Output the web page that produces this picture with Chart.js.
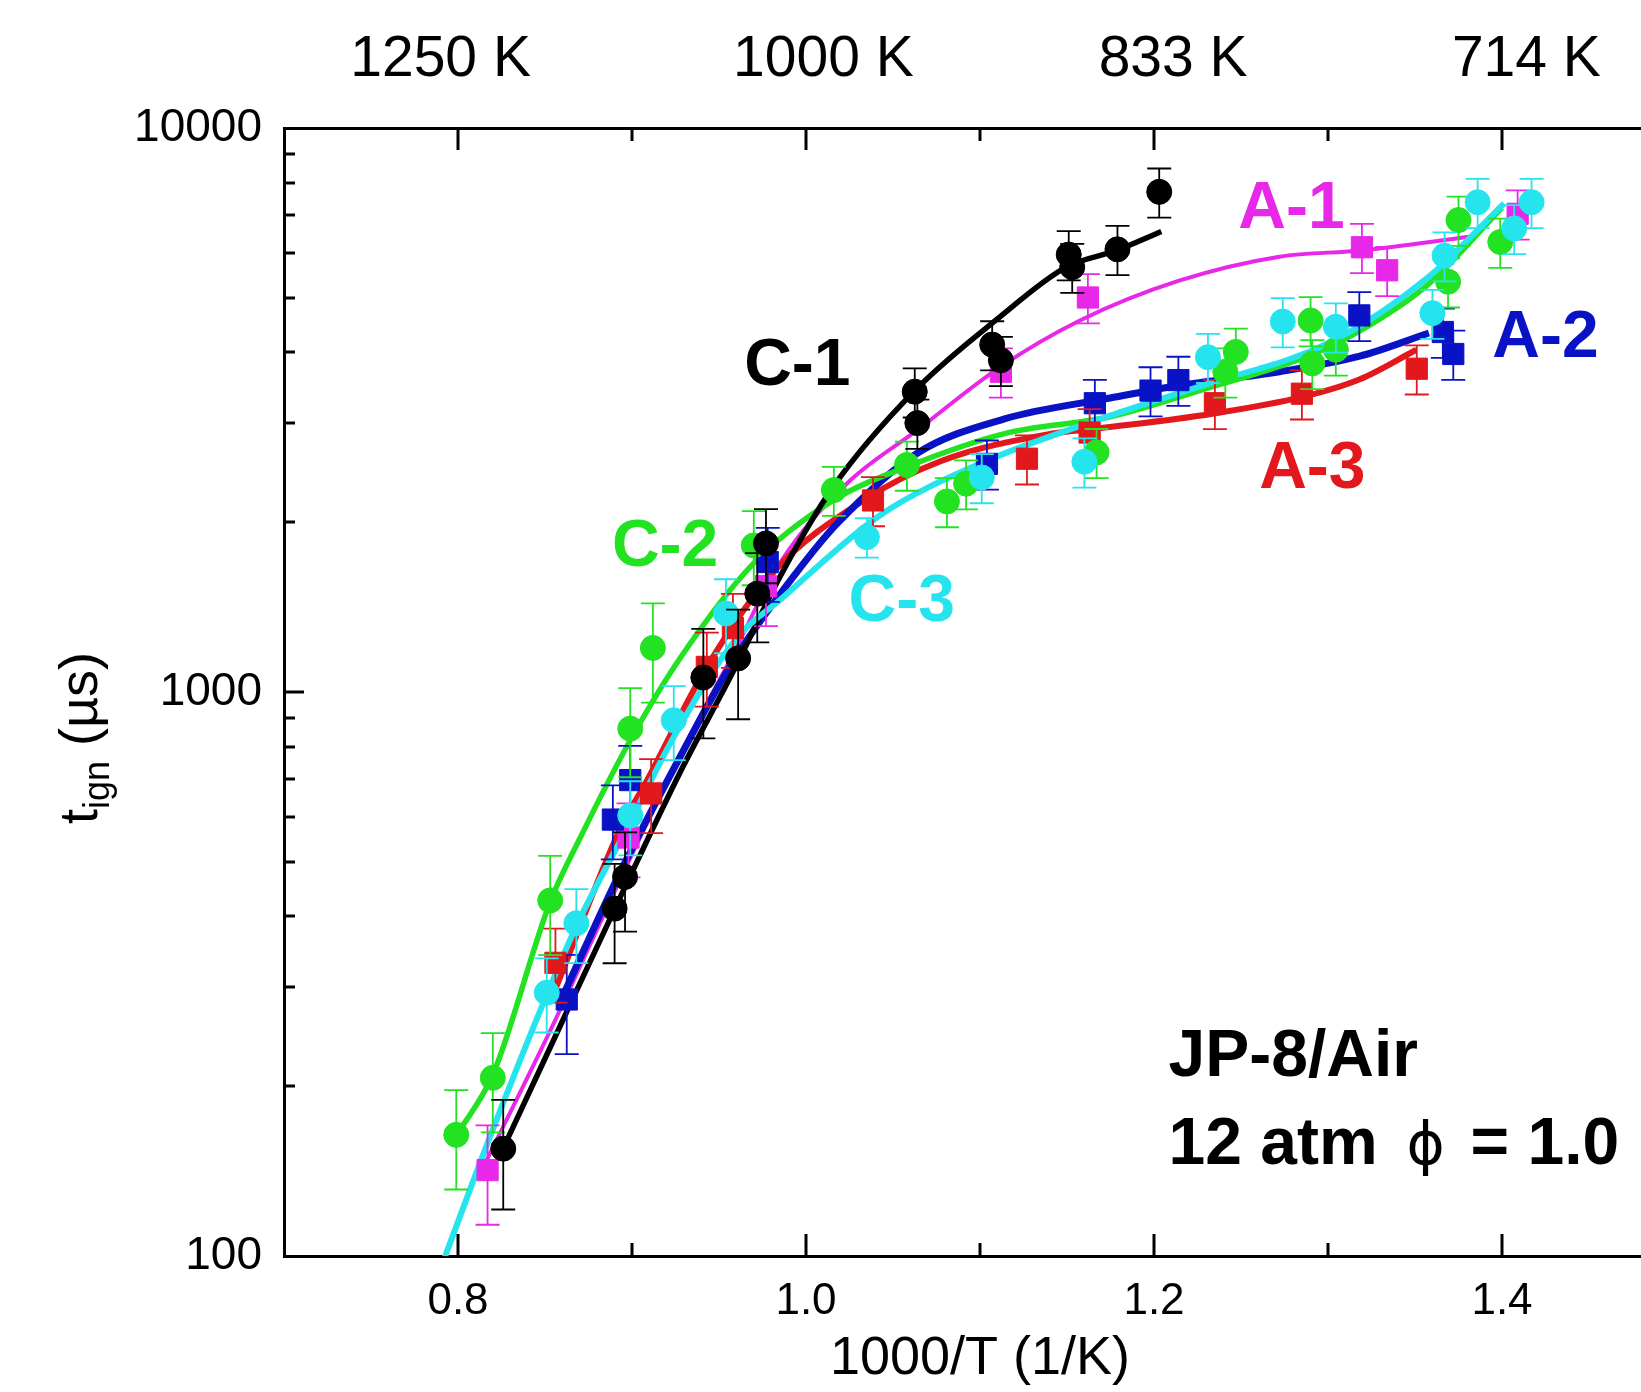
<!DOCTYPE html>
<html>
<head>
<meta charset="utf-8">
<title>JP-8/Air ignition delay, 12 atm</title>
<script src="https://cdn.jsdelivr.net/npm/chart.js@4.4.1/dist/chart.umd.min.js"></script>
<style>
  html, body { margin: 0; padding: 0; background: #fff; overflow: hidden; }
  #wrap { width: 1641px; height: 1392px; overflow: hidden; }
  canvas { display: block; }
</style>
</head>
<body>
<div id="wrap"><canvas id="tign" width="1720" height="1392"></canvas></div>
<script>
// measured points: [1000/T (1/K), t_ign (us), relative error]
const c1Pts = [[0.826, 155, 0.22], [0.890, 413, 0.2], [0.896, 470, 0.2], [0.941, 1061, 0.22], [0.961, 1147, 0.22],
  [0.972, 1494, 0.18], [0.977, 1834, 0.15], [1.0625, 3408, 0.1], [1.064, 2998, 0.1], [1.107, 4130, 0.1],
  [1.112, 3874, 0.1], [1.151, 5965, 0.1], [1.153, 5666, 0.1], [1.179, 6094, 0.1], [1.203, 7706, 0.1]];
const c2Pts = [[0.799, 164, 0.2], [0.820, 207, 0.2], [0.853, 427, 0.2], [0.899, 861, 0.18], [0.912, 1197, 0.2],
  [0.970, 1819, 0.15], [1.016, 2280, 0.1], [1.058, 2527, 0.1], [1.081, 2177, 0.1], [1.092, 2341, 0.1],
  [1.167, 2660, 0.1], [1.241, 3697, 0.1], [1.247, 4009, 0.1], [1.290, 4557, 0.1], [1.291, 3825, 0.1],
  [1.3045, 4044, 0.1], [1.369, 5339, 0.1], [1.375, 6867, 0.1], [1.399, 6278, 0.1]];
const c3Pts = [[0.851, 293, 0.15], [0.868, 389, 0.15], [0.899, 604, 0.15], [0.924, 891, 0.15], [0.954, 1378, 0.15],
  [1.035, 1882, 0.08], [1.101, 2401, 0.1], [1.160, 2560, 0.1], [1.231, 3923, 0.1], [1.274, 4538, 0.1],
  [1.3045, 4442, 0.1], [1.360, 4696, 0.1], [1.367, 5939, 0.1], [1.386, 7385, 0.1], [1.407, 6637, 0.1],
  [1.417, 7385, 0.1]];
const a1Pts = [[0.817, 142, 0.2], [0.898, 552, 0.15], [0.977, 1540, 0.15], [1.112, 3697, 0.1], [1.162, 5006, 0.1],
  [1.3195, 6146, 0.1], [1.334, 5594, 0.1], [1.409, 7045, 0.1]];
const a2Pts = [[0.8625, 285, 0.2], [0.889, 594, 0.15], [0.899, 698, 0.15], [0.978, 1700, 0.15], [1.104, 2538, 0.1],
  [1.166, 3251, 0.1], [1.198, 3423, 0.1], [1.214, 3573, 0.1], [1.318, 4653, 0.1], [1.366, 4348, 0.1],
  [1.372, 3975, 0.1]];
const a3Pts = [[0.856, 331, 0.15], [0.911, 661, 0.15], [0.943, 1108, 0.15], [0.958, 1298, 0.15], [1.0385, 2186, 0.1],
  [1.127, 2592, 0.1], [1.163, 2884, 0.1], [1.235, 3251, 0.1], [1.285, 3380, 0.1], [1.351, 3743, 0.1]];

// fitted curves: [1000/T, t_ign]
const c1Fit = [[0.8246, 152], [0.8559, 245], [0.8919, 424], [0.9279, 723], [0.958, 1085], [0.985, 1600],
  [1.0156, 2310], [1.0625, 3422], [1.1111, 4615], [1.1495, 5666], [1.1784, 6066], [1.2042, 6552]];
const c2Fit = [[0.7988, 163], [0.8204, 211], [0.8529, 424], [0.8703, 552], [0.8991, 822], [0.9279, 1151],
  [0.97, 1692], [1.0156, 2186], [1.0577, 2506], [1.1141, 2872], [1.1748, 3076], [1.2282, 3438],
  [1.2883, 3940], [1.3183, 4367], [1.358, 5293], [1.400, 7228]];
const c3Fit = [[0.7916, 98], [0.8198, 167], [0.8511, 291], [0.8679, 384], [0.8991, 589], [0.9237, 829],
  [0.9604, 1249], [0.985, 1456], [1.0426, 2058], [1.0997, 2538], [1.1748, 3090], [1.2282, 3496],
  [1.3009, 4166], [1.358, 5452], [1.4012, 7353]];
const a1Fit = [[0.8156, 146], [0.8559, 262], [0.8919, 456], [0.9279, 777], [0.958, 1166], [0.985, 1692],
  [1.0234, 2340], [1.0637, 2909], [1.1111, 3760], [1.1574, 4557], [1.2144, 5361], [1.2721, 5914],
  [1.3195, 6066], [1.3814, 6412]];
const a2Fit = [[0.8607, 291], [0.8919, 470], [0.9279, 770], [0.958, 1132], [0.994, 1620], [1.018, 1990],
  [1.0637, 2648], [1.1141, 3050], [1.1748, 3321], [1.2144, 3496], [1.2721, 3697], [1.3183, 3940], [1.358, 4330]];
const a3Fit = [[0.8559, 297], [0.8931, 571], [0.9087, 698], [0.943, 1108], [0.982, 1641], [1.033, 2186],
  [1.0781, 2570], [1.1381, 2860], [1.1688, 2935], [1.2336, 3115], [1.2853, 3336], [1.3183, 3586], [1.3508, 4044]];

const xTickValues = [0.8, 1.0, 1.2, 1.4];
const xTickLabels = ['0.8', '1.0', '1.2', '1.4'];
// temperature labels sit a little off their 1000/T marks in the original
const topLabelPos = [0.790, 1.010, 1.211, 1.414];
const topTickLabels = ['1250 K', '1000 K', '833 K', '714 K'];
const yTickValues = [100, 1000, 10000];
const yTickLabels = ['100', '1000', '10000'];

const FONT = '"Liberation Sans", Arial, Helvetica, sans-serif';
const BLACK = '#000000', GREEN = '#22e222', CYAN = '#26e4ee', MAGENTA = '#e828e8', BLUE = '#0a12c6', RED = '#e2181c';

// labels placed in data coordinates
const seriesTags = [
  { text: 'C-1', color: BLACK, x: 0.995, y: 3855 },
  { text: 'A-1', color: MAGENTA, x: 1.279, y: 7320 },
  { text: 'A-2', color: BLUE, x: 1.425, y: 4330 },
  { text: 'A-3', color: RED, x: 1.291, y: 2538 },
  { text: 'C-2', color: GREEN, x: 0.919, y: 1842 },
  { text: 'C-3', color: CYAN, x: 1.055, y: 1475 }
];
const note = { x: 1.2084, y1: 208.5, y2: 145.6 };

const toXY = arr => arr.map(p => ({ x: p[0], y: p[1] }));

function fitSet(pts, color, width, order) {
  return {
    data: toXY(pts), showLine: true, borderColor: color, borderWidth: width,
    pointRadius: 0, cubicInterpolationMode: 'monotone', order: order, clip: 0
  };
}

function markSet(pts, color, style, radius, order) {
  return {
    data: toXY(pts), errs: pts.map(p => p[2]), errColor: color, showLine: false,
    pointStyle: style, pointRadius: radius, pointBackgroundColor: color,
    pointBorderColor: color, pointBorderWidth: 1, order: order
  };
}

// error bars drawn right before each marker set
const errorBars = {
  id: 'errorBars',
  beforeDatasetDraw(chart, args) {
    const ds = chart.data.datasets[args.index];
    if (!ds.errs) return;
    const { ctx, scales: { x, y } } = chart;
    ctx.save();
    ctx.strokeStyle = ds.errColor;
    ctx.lineWidth = 1.8;
    ctx.beginPath();
    ds.data.forEach((p, i) => {
      const e = ds.errs[i];
      const px = x.getPixelForValue(p.x);
      const hi = y.getPixelForValue(p.y * (1 + e));
      const lo = y.getPixelForValue(p.y * (1 - e));
      ctx.moveTo(px, hi); ctx.lineTo(px, lo);
      ctx.moveTo(px - 12, hi); ctx.lineTo(px + 12, hi);
      ctx.moveTo(px - 12, lo); ctx.lineTo(px + 12, lo);
    });
    ctx.stroke();
    ctx.restore();
  }
};

// inward ticks, axis titles, annotations
const decor = {
  id: 'decor',
  afterDraw(chart) {
    const { ctx, chartArea: a, scales } = chart;
    ctx.save();
    ctx.strokeStyle = '#000';
    ctx.lineWidth = 3;
    ctx.beginPath();
    for (let k = 8; k <= 14; k++) {
      const px = Math.round(scales.x.getPixelForValue(k / 10));
      const len = k % 2 === 0 ? 22 : 13;
      ctx.moveTo(px, a.bottom); ctx.lineTo(px, a.bottom - len);
      ctx.moveTo(px, a.top); ctx.lineTo(px, a.top + len);
    }
    for (const dec of [100, 1000]) {
      for (let m = 1; m <= 9; m++) {
        const v = dec * m;
        if (v === 100) continue;
        const py = Math.round(scales.y.getPixelForValue(v));
        const len = m === 1 ? 20 : 11;
        ctx.moveTo(a.left, py); ctx.lineTo(a.left + len, py);
      }
    }
    ctx.stroke();

    // series tags
    ctx.textAlign = 'center';
    ctx.textBaseline = 'alphabetic';
    ctx.font = 'bold 66px ' + FONT;
    seriesTags.forEach(t => {
      ctx.fillStyle = t.color;
      ctx.fillText(t.text, scales.x.getPixelForValue(t.x), scales.y.getPixelForValue(t.y) + 24);
    });

    // condition note
    ctx.fillStyle = '#000';
    ctx.textAlign = 'left';
    const nx = scales.x.getPixelForValue(note.x);
    const ny1 = scales.y.getPixelForValue(note.y1);
    const ny2 = scales.y.getPixelForValue(note.y2);
    ctx.fillText('JP-8/Air', nx, ny1);
    ctx.fillText('12 atm', nx, ny2);
    ctx.fillText('= 1.0', nx + 302, ny2);
    ctx.font = '58px "DejaVu Sans", sans-serif';
    ctx.textAlign = 'center';
    ctx.fillText('\u03d5', nx + 257, ny2);

    // x title
    ctx.font = '54px ' + FONT;
    ctx.fillText('1000/T (1/K)', (a.left + a.right) / 2, 1374);

    // y title with subscript
    ctx.translate(97, 738);
    ctx.rotate(-Math.PI / 2);
    ctx.textAlign = 'left';
    const big = '54px ' + FONT, small = '36px ' + FONT;
    ctx.font = big;
    const wT = ctx.measureText('t').width;
    const wRest = ctx.measureText(' (\u00b5s)').width;
    ctx.font = small;
    const wSub = ctx.measureText('ign').width;
    let cx = -(wT + wSub + wRest) / 2;
    ctx.font = big; ctx.fillText('t', cx, 0); cx += wT;
    ctx.font = small; ctx.fillText('ign', cx, 12); cx += wSub;
    ctx.font = big; ctx.fillText(' (\u00b5s)', cx, 0);
    ctx.restore();
  }
};

new Chart(document.getElementById('tign'), {
  type: 'scatter',
  data: {
    datasets: [
      fitSet(a1Fit, MAGENTA, 4, 30),
      fitSet(a3Fit, RED, 6, 29),
      fitSet(a2Fit, BLUE, 7, 28),
      fitSet(c2Fit, GREEN, 5.5, 27),
      fitSet(c1Fit, BLACK, 5.5, 26),
      fitSet(c3Fit, CYAN, 6, 25),
      markSet(a1Pts, MAGENTA, 'rect', 15, 16),
      markSet(a2Pts, BLUE, 'rect', 15, 15),
      markSet(a3Pts, RED, 'rect', 15, 14),
      markSet(c2Pts, GREEN, 'circle', 12.5, 13),
      markSet(c3Pts, CYAN, 'circle', 12.5, 12),
      markSet(c1Pts, BLACK, 'circle', 12.5, 11)
    ]
  },
  options: {
    responsive: false,
    devicePixelRatio: 1,
    animation: false,
    events: [],
    layout: { padding: { left: 0, right: 44, top: 0, bottom: 0 } },
    plugins: { legend: { display: false }, tooltip: { enabled: false } },
    scales: {
      x: {
        type: 'linear', position: 'bottom', min: 0.7, max: 1.5,
        grid: { display: false, drawTicks: false },
        border: { display: true, width: 3, color: '#000' },
        afterBuildTicks: s => { s.ticks = xTickValues.map(v => ({ value: v })); },
        afterFit: s => { s.height = 136; },
        ticks: {
          autoSkip: false, maxRotation: 0, padding: 19, color: '#000',
          font: { size: 44, family: FONT },
          callback: (v, i) => xTickLabels[i]
        }
      },
      x2: {
        type: 'linear', position: 'top', min: 0.7, max: 1.5,
        grid: { display: false, drawTicks: false },
        border: { display: true, width: 3, color: '#000' },
        afterBuildTicks: s => { s.ticks = topLabelPos.map(v => ({ value: v })); },
        afterFit: s => { s.height = 128; },
        ticks: {
          autoSkip: false, maxRotation: 0, padding: 34, color: '#000',
          font: { size: 57, family: FONT },
          callback: (v, i) => topTickLabels[i]
        }
      },
      y: {
        type: 'logarithmic', position: 'left', min: 100, max: 10000,
        grid: { display: false, drawTicks: false },
        border: { display: true, width: 3, color: '#000' },
        afterBuildTicks: s => { s.ticks = yTickValues.map(v => ({ value: v })); },
        afterFit: s => { s.width = 284; },
        ticks: {
          autoSkip: false, padding: 22, color: '#000',
          font: { size: 46, family: FONT },
          callback: (v, i) => yTickLabels[i]
        }
      }
    }
  },
  plugins: [errorBars, decor]
});
</script>
</body>
</html>
